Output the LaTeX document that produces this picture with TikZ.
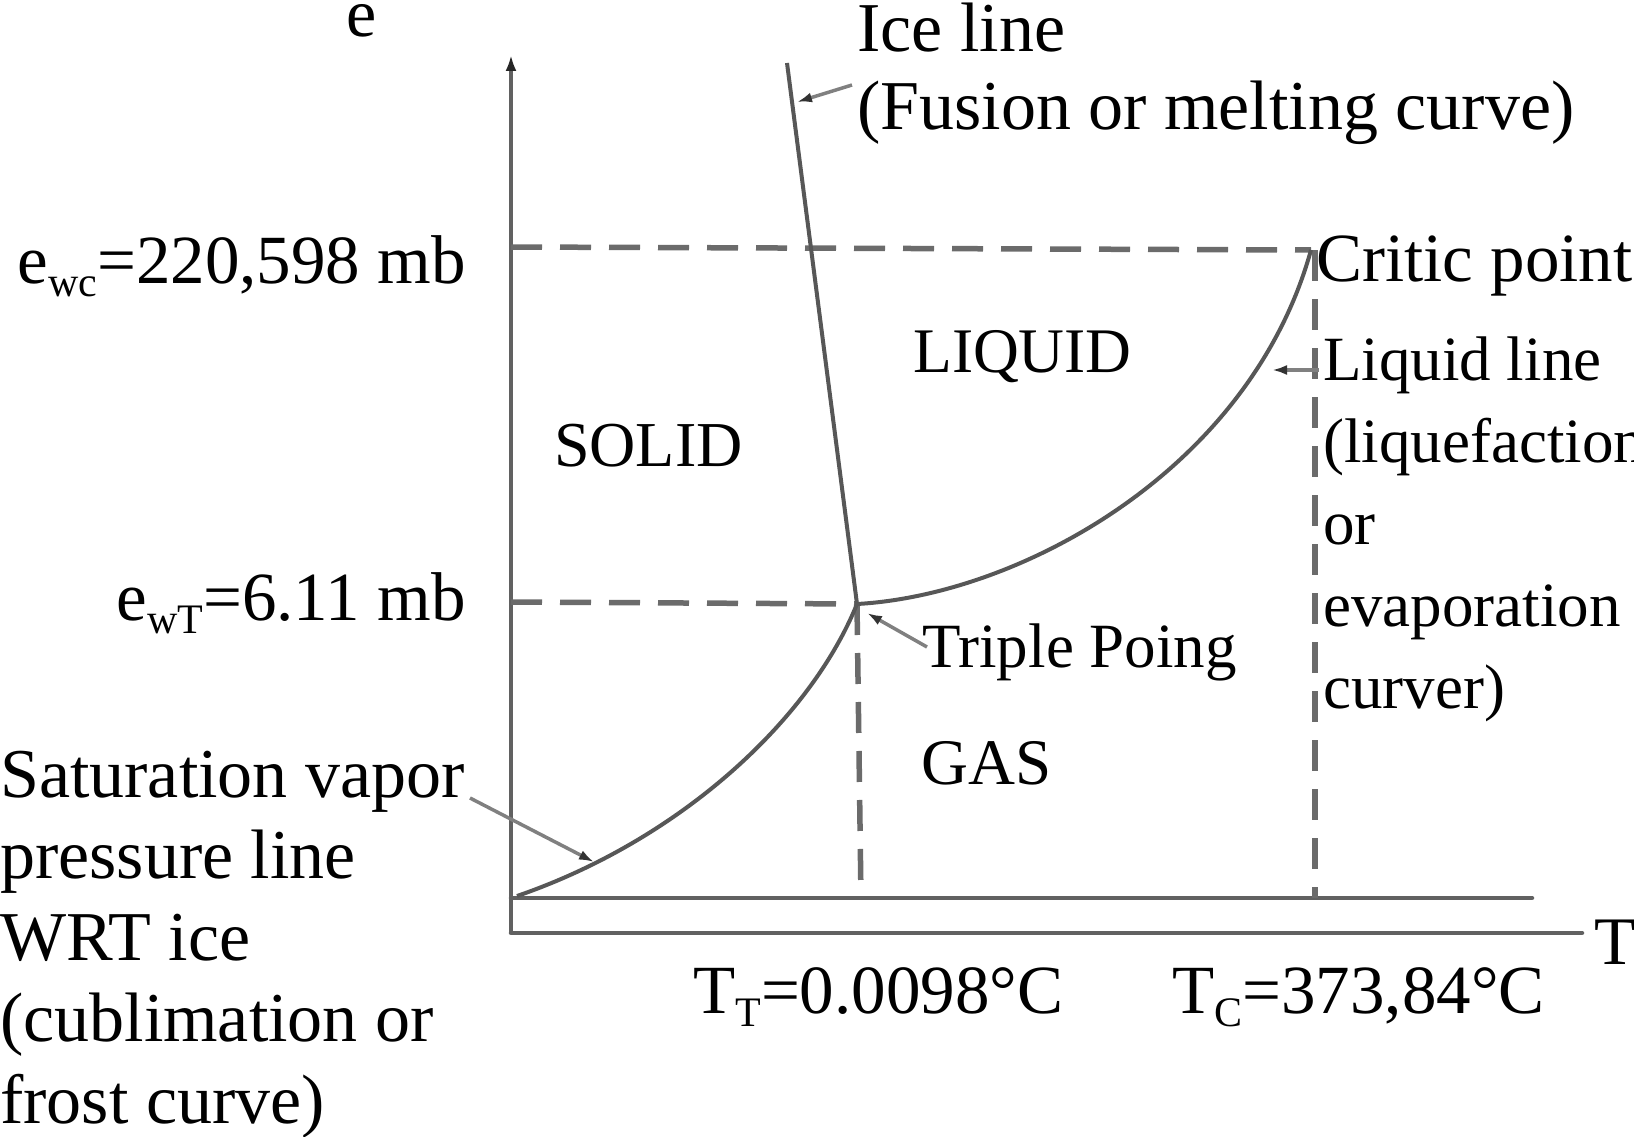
\documentclass[tikz,border=0pt]{standalone}
\usepackage{fontspec}
\setmainfont{Liberation Serif}
\usetikzlibrary{arrows.meta}
\newcommand\lowsub[1]{\raisebox{-13pt}{\fontsize{42}{44}\selectfont #1}}
\newcommand\fs[2]{\fontsize{#1}{#2}\selectfont}
\begin{document}
\begin{tikzpicture}[x=1pt,y=-1pt,
  lab/.style={anchor=base west,inner sep=0pt,align=left},
  labr/.style={anchor=base east,inner sep=0pt},
  axisline/.style={draw=black!62,line width=4.5pt},
  curveline/.style={draw=black!66,line width=4pt},
  dashline/.style={draw=black!58,line width=5.5pt,dash pattern=on 31pt off 18pt},
  pointer/.style={draw=black!50,line width=3.5pt,-{Latex[length=15pt,width=10pt,black!80]}}]
\useasboundingbox (0,0) rectangle (1634,1137);
% key points
\coordinate (O) at (511,933);
\coordinate (Ytop) at (511,55);
\coordinate (Xend) at (1582,933);
\coordinate (B0) at (511,898);
\coordinate (B1) at (1532,898);
\coordinate (TP) at (857,604);
\coordinate (CP) at (1311,250);
\coordinate (IceTop) at (787,63);
\coordinate (YC) at (511,247);
\coordinate (YT) at (511,602);
\coordinate (TPfoot) at (861,898);
\coordinate (CPtop) at (1315,250);
\coordinate (CPfoot) at (1315,898);
\coordinate (S0) at (517,896);
% axes
\draw[axisline,-{Latex[length=16pt,width=11pt,black!85]}] (O) -- (Ytop);
\draw[axisline,line cap=round] (O) -- (Xend);
\draw[axisline,line cap=round] (B0) -- (B1);
% dashed guide lines
\draw[dashline] (YC) -- (CP);
\draw[dashline] (YT) -- (TP);
\draw[dashline] (TP) -- (TPfoot);
\draw[dashline] (CPtop) -- (CPfoot);
% phase curves
\draw[curveline] (IceTop) -- (TP);
\draw[curveline] (S0) .. controls (680,840) and (810,720) .. (TP);
\draw[curveline] (TP) .. controls (1020,595) and (1250,470) .. (CP);
% texts
\node[lab,font=\fs{68}{80}] (e) at (346,37) {e};
\node[lab,font=\fs{70}{78}] (ice) at (857,130) {Ice line\\(Fusion or melting curve)};
\node[labr,font=\fs{69}{80}] (ewc) at (466,283) {e\lowsub{wc}=220,598 mb};
\node[labr,font=\fs{69}{80}] (ewt) at (466,620) {e\lowsub{wT}=6.11 mb};
\node[lab,font=\fs{69}{80}] (crit) at (1316,281) {Critic point};
\node[lab,font=\fs{63.5}{78}] (liq) at (913,372) {LIQUID};
\node[lab,font=\fs{64}{78}] (sol) at (554,466) {SOLID};
\node[lab,font=\fs{65}{78}] (gas) at (921,784) {GAS};
\node[lab,font=\fs{63}{82}] (liqline) at (1323,708) {Liquid line\\(liquefaction\\or\\evaporation\\curver)};
\node[lab,font=\fs{63}{78}] (trip) at (922,667) {Triple Poing};
\node[lab,font=\fs{70}{81.5}] (sat) at (0,1123) {Saturation vapor\\pressure line\\WRT ice\\(cublimation or\\frost curve)};
\node[lab,font=\fs{69}{80}] (tt) at (693,1013) {T\lowsub{T}=0.0098°C};
\node[lab,font=\fs{69}{80}] (tc) at (1172,1013) {T\lowsub{C}=373,84°C};
\node[lab,font=\fs{68}{80}] (T) at (1594,964) {T};
% pointers
\coordinate (iceA) at (852,85);
\coordinate (iceB) at (797,102);
\coordinate (liqA) at (1319,370);
\coordinate (liqB) at (1272,370);
\coordinate (triA) at (927,647);
\coordinate (triB) at (867,613);
\coordinate (satA) at (470,798);
\coordinate (satB) at (594,862);
\draw[pointer] (iceA) -- (iceB);
\draw[pointer] (liqA) -- (liqB);
\draw[pointer] (triA) -- (triB);
\draw[pointer] (satA) -- (satB);
\end{tikzpicture}
\end{document}
